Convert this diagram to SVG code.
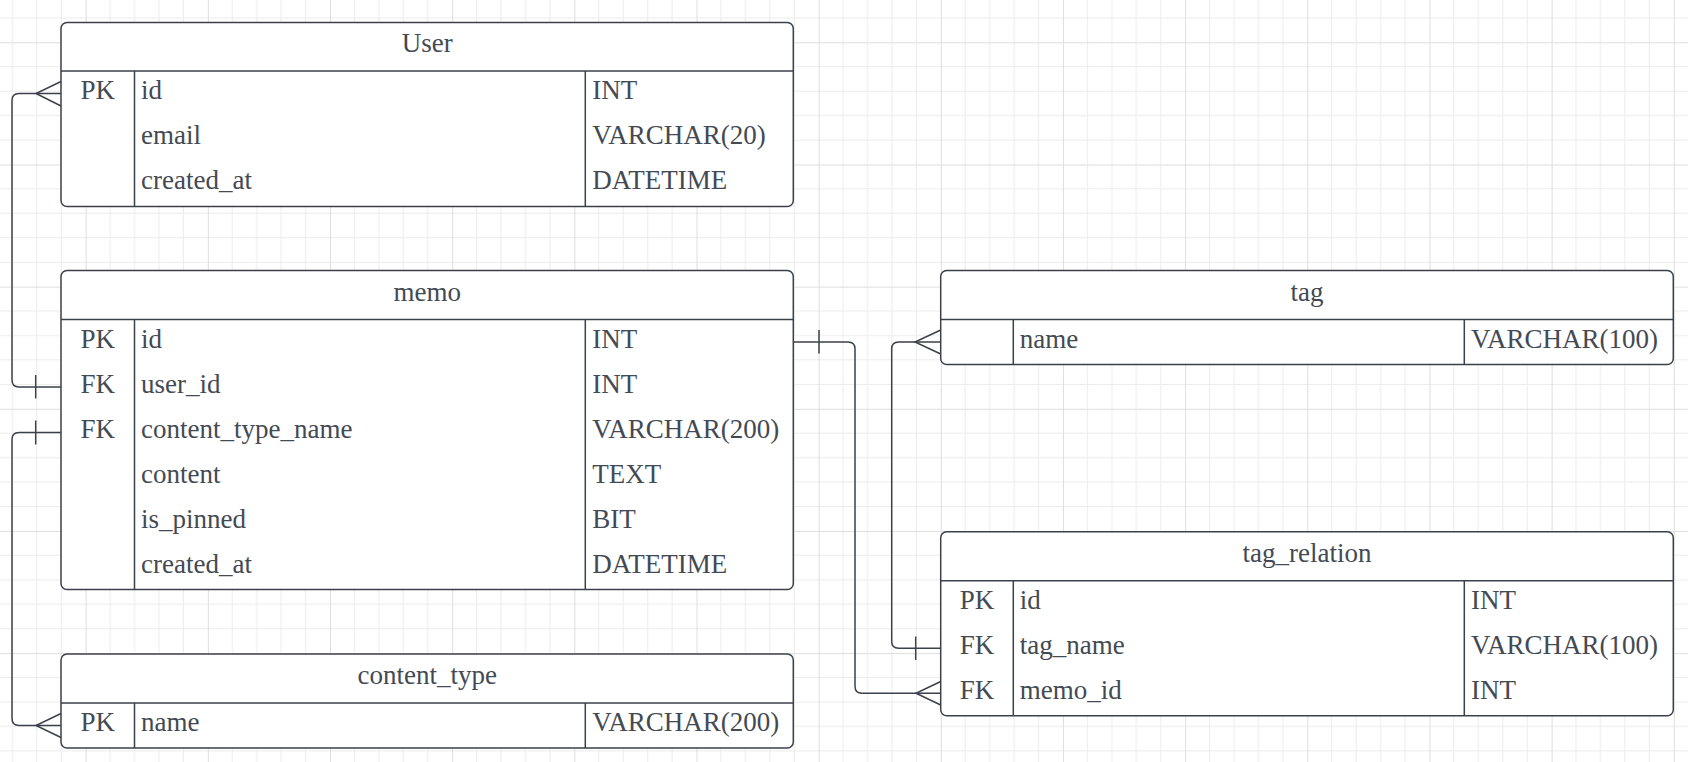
<svg xmlns="http://www.w3.org/2000/svg" width="1688" height="762" viewBox="0 0 1688 762">
<style>
.box{fill:#ffffff;stroke:#3a414a;stroke-width:1.5}
.ln{fill:none;stroke:#3a414a;stroke-width:1.5}
.t{font-family:"Liberation Serif","Times New Roman",serif;font-size:27px;fill:#434a53}
.c{text-anchor:middle}
.conn path{fill:none;stroke:#3a414a;stroke-width:1.5}
</style>
<defs>
<pattern id="grid" patternUnits="userSpaceOnUse" x="-36.46" y="-79.86" width="122.16" height="122.16">
<path d="M24.43,0V122.16M48.86,0V122.16M73.3,0V122.16M97.73,0V122.16M0,24.43H122.16M0,48.86H122.16M0,73.3H122.16M0,97.73H122.16" stroke="#ececec" stroke-width="1" fill="none"/>
<path d="M0.5,0V122.16M0,0.5H122.16" stroke="#dedede" stroke-width="1" fill="none"/>
</pattern>
</defs>
<rect width="1688" height="762" fill="#ffffff"/>
<rect width="1688" height="762" fill="url(#grid)"/>

<g id="user">
<rect class="box" x="61" y="22.5" width="732.3" height="184" rx="6"/>
<path class="ln" d="M61,71H793.3M134.5,71V206.5M585.3,71V206.5"/>
<text class="t c" x="427.2" y="52.3">User</text>
<text class="t c" x="97.8" y="99.3">PK</text>
<text class="t" x="141" y="99.3">id</text>
<text class="t" x="592.3" y="99.3">INT</text>
<text class="t" x="141" y="144.3">email</text>
<text class="t" x="592.3" y="144.3">VARCHAR(20)</text>
<text class="t" x="141" y="189.3">created_at</text>
<text class="t" x="592.3" y="189.3">DATETIME</text>
</g>

<g id="memo">
<rect class="box" x="61" y="270.5" width="732.3" height="319" rx="6"/>
<path class="ln" d="M61,319.5H793.3M134.5,319.5V589.5M585.3,319.5V589.5"/>
<text class="t c" x="427.2" y="300.5">memo</text>
<text class="t c" x="97.8" y="347.8">PK</text>
<text class="t" x="141" y="347.8">id</text>
<text class="t" x="592.3" y="347.8">INT</text>
<text class="t c" x="97.8" y="392.8">FK</text>
<text class="t" x="141" y="392.8">user_id</text>
<text class="t" x="592.3" y="392.8">INT</text>
<text class="t c" x="97.8" y="437.8">FK</text>
<text class="t" x="141" y="437.8">content_type_name</text>
<text class="t" x="592.3" y="437.8">VARCHAR(200)</text>
<text class="t" x="141" y="482.8">content</text>
<text class="t" x="592.3" y="482.8">TEXT</text>
<text class="t" x="141" y="527.8">is_pinned</text>
<text class="t" x="592.3" y="527.8">BIT</text>
<text class="t" x="141" y="572.8">created_at</text>
<text class="t" x="592.3" y="572.8">DATETIME</text>
</g>

<g id="content_type">
<rect class="box" x="61" y="654" width="732.3" height="94" rx="6"/>
<path class="ln" d="M61,703H793.3M134.5,703V748M585.3,703V748"/>
<text class="t c" x="427.2" y="684">content_type</text>
<text class="t c" x="97.8" y="731.3">PK</text>
<text class="t" x="141" y="731.3">name</text>
<text class="t" x="592.3" y="731.3">VARCHAR(200)</text>
</g>

<g id="tag">
<rect class="box" x="940.7" y="270.5" width="732.6" height="94" rx="6"/>
<path class="ln" d="M940.7,319.5H1673.3M1013.3,319.5V364.5M1464.3,319.5V364.5"/>
<text class="t c" x="1307" y="300.5">tag</text>
<text class="t" x="1019.8" y="347.8">name</text>
<text class="t" x="1471" y="347.8">VARCHAR(100)</text>
</g>

<g id="tag_relation">
<rect class="box" x="940.7" y="531.7" width="732.6" height="184" rx="6"/>
<path class="ln" d="M940.7,580.7H1673.3M1013.3,580.7V715.7M1464.3,580.7V715.7"/>
<text class="t c" x="1307" y="561.7">tag_relation</text>
<text class="t c" x="977" y="609">PK</text>
<text class="t" x="1019.8" y="609">id</text>
<text class="t" x="1471" y="609">INT</text>
<text class="t c" x="977" y="654">FK</text>
<text class="t" x="1019.8" y="654">tag_name</text>
<text class="t" x="1471" y="654">VARCHAR(100)</text>
<text class="t c" x="977" y="699">FK</text>
<text class="t" x="1019.8" y="699">memo_id</text>
<text class="t" x="1471" y="699">INT</text>
</g>

<g id="connectors" class="conn">
<path d="M61,93.5H19Q12,93.5 12,100.5V380Q12,387 19,387H61"/>
<path d="M61,81.5L36,93.5L61,106"/>
<path d="M35.7,375V398.5"/>

<path d="M61,432.5H19Q12,432.5 12,439.5V718.5Q12,725.5 19,725.5H61"/>
<path d="M35.7,420.5V444.5"/>
<path d="M61,713.5L36,725.5L61,737.5"/>

<path d="M793.3,342H848Q855,342 855,349V686.2Q855,693.2 862,693.2H940.7"/>
<path d="M819,330V353.5"/>
<path d="M940.7,681.5L916,693.2L940.7,705"/>

<path d="M940.7,342H898.7Q891.7,342 891.7,349V641.2Q891.7,648.2 898.7,648.2H940.7"/>
<path d="M940.7,330L915,342L940.7,354"/>
<path d="M915.7,636.5V660"/>
</g>
</svg>
